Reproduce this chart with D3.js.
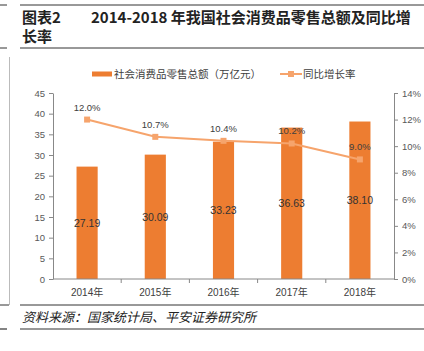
<!DOCTYPE html>
<html>
<head>
<meta charset="utf-8">
<script src="https://cdn.jsdelivr.net/npm/d3@7"></script>
<style>
  body { margin: 0; background: #fff; }
  svg { display: block; font-family: "Liberation Sans", Arial, "Noto Sans CJK SC", sans-serif; }
</style>
</head>
<body>
<svg id="chart" width="424" height="351"></svg>
<script>

// Data
const years = ["2014年", "2015年", "2016年", "2017年", "2018年"];
const retailSales = [27.19, 30.09, 33.23, 36.63, 38.10];
const growthRate = [12.0, 10.7, 10.4, 10.2, 9.0];
const leftTicks = [0, 5, 10, 15, 20, 25, 30, 35, 40, 45];
const rightTicks = [0, 2, 4, 6, 8, 10, 12, 14];

const barColour = "#ED7D31";
const lineColour = "#F6A46C";
const cjk = "'Noto Sans CJK SC', sans-serif";

const svg = d3.select("#chart");

// Frame lines
const rule = (x1, x2, y, w) => svg.append("line")
    .attr("x1", x1).attr("x2", x2).attr("y1", y).attr("y2", y)
    .attr("stroke", "#333").attr("stroke-width", w);
rule(0, 7, 5, 1); rule(20, 424, 5, 1);
rule(0, 7, 48, 1); rule(20, 424, 48, 1);
rule(0, 9, 305, 1); rule(20, 424, 305, 1);
rule(0, 7, 329, 1.2); rule(20, 424, 329, 1.2);
svg.append("line")
    .attr("x1", 9.5).attr("x2", 9.5).attr("y1", 57).attr("y2", 305)
    .attr("stroke", "#bbb").attr("stroke-width", 1);

// Title
const title = svg.append("g")
    .style("font-family", cjk).style("font-weight", "bold").style("font-size", "15px").attr("fill", "#222");
title.append("text").attr("x", 22).attr("y", 23).text("图表2");
title.append("text").attr("x", 91).attr("y", 23).text("2014-2018 年我国社会消费品零售总额及同比增");
title.append("text").attr("x", 22).attr("y", 42).text("长率");

// Source
svg.append("text").attr("x", 22).attr("y", 322)
    .style("font-family", cjk).style("font-style", "italic").style("font-size", "13px").attr("fill", "#222")
    .text("资料来源：国家统计局、平安证券研究所");

// Scales
const plot = {left: 53, right: 394, top: 93, bottom: 279};
const x = d3.scaleBand().domain(years).range([plot.left, plot.right]).paddingInner(0.69).paddingOuter(0.345);
const xb = d3.scaleBand().domain(years).range([plot.left, plot.right]);
const yL = d3.scaleLinear().domain([0, 45]).range([plot.bottom, plot.top]);
const yR = d3.scaleLinear().domain([0, 14]).range([plot.bottom, plot.top]);

// Axes
const styleAxis = g => {
    g.selectAll("path, line").attr("stroke", "#888");
    g.selectAll("text").attr("fill", "#595959").style("font-size", "9.5px");
};
svg.append("g")
    .attr("transform", `translate(${plot.left},0)`)
    .call(d3.axisLeft(yL).tickValues(leftTicks).tickSize(4).tickSizeOuter(0).tickPadding(4))
    .call(styleAxis);
svg.append("g")
    .attr("transform", `translate(${plot.right},0)`)
    .call(d3.axisRight(yR).tickValues(rightTicks).tickSize(4).tickSizeOuter(0).tickPadding(4).tickFormat(d => d + "%"))
    .call(styleAxis);

// Bars
svg.append("g").selectAll("rect")
    .data(retailSales)
    .join("rect")
    .attr("x", (d, i) => x(years[i]))
    .attr("width", x.bandwidth())
    .attr("y", d => yL(d))
    .attr("height", d => yL(0) - yL(d))
    .attr("fill", barColour);

// X axis (ticks between categories)
const xAxis = svg.append("g").attr("transform", `translate(0,${plot.bottom})`);
xAxis.append("line").attr("x1", plot.left).attr("x2", plot.right).attr("stroke", "#888");
xAxis.selectAll(".sep")
    .data(years.slice(1))
    .join("line")
    .attr("x1", d => xb(d)).attr("x2", d => xb(d))
    .attr("y1", 0).attr("y2", 4)
    .attr("stroke", "#888");
xAxis.selectAll("text")
    .data(years)
    .join("text")
    .attr("x", d => xb(d) + xb.bandwidth() / 2)
    .attr("y", 17)
    .attr("text-anchor", "middle")
    .attr("fill", "#404040")
    .style("font-size", "10px")
    .text(d => d);

// Bar value labels
svg.append("g").selectAll("text")
    .data(retailSales)
    .join("text")
    .attr("x", (d, i) => xb(years[i]) + xb.bandwidth() / 2)
    .attr("y", d => (yL(d) + yL(0)) / 2 + 4)
    .attr("text-anchor", "middle")
    .attr("fill", "#333")
    .style("font-size", "10.5px")
    .text(d => d.toFixed(2));

// Growth line
const cx = (d, i) => xb(years[i]) + xb.bandwidth() / 2;
svg.append("path")
    .datum(growthRate)
    .attr("fill", "none")
    .attr("stroke", lineColour)
    .attr("stroke-width", 2)
    .attr("d", d3.line().x(cx).y(d => yR(d)));
svg.append("g").selectAll("rect")
    .data(growthRate)
    .join("rect")
    .attr("x", (d, i) => cx(d, i) - 3)
    .attr("y", d => yR(d) - 3)
    .attr("width", 6).attr("height", 6)
    .attr("fill", lineColour);
svg.append("g").selectAll("text")
    .data(growthRate)
    .join("text")
    .attr("x", cx)
    .attr("y", d => yR(d) - 9)
    .attr("text-anchor", "middle")
    .attr("fill", "#404040")
    .style("font-size", "9.5px")
    .text(d => d.toFixed(1) + "%");

// Legend
const legend = svg.append("g").style("font-family", cjk).style("font-size", "10.5px");
legend.append("rect").attr("x", 92).attr("y", 71.5).attr("width", 20).attr("height", 5).attr("fill", barColour);
legend.append("text").attr("x", 114).attr("y", 78).attr("fill", "#404040").text("社会消费品零售总额（万亿元）");
legend.append("line").attr("x1", 280).attr("x2", 302).attr("y1", 74).attr("y2", 74)
    .attr("stroke", lineColour).attr("stroke-width", 2);
legend.append("rect").attr("x", 288).attr("y", 71).attr("width", 6).attr("height", 6).attr("fill", lineColour);
legend.append("text").attr("x", 303).attr("y", 78).attr("fill", "#404040").text("同比增长率");

</script>
</body>
</html>
